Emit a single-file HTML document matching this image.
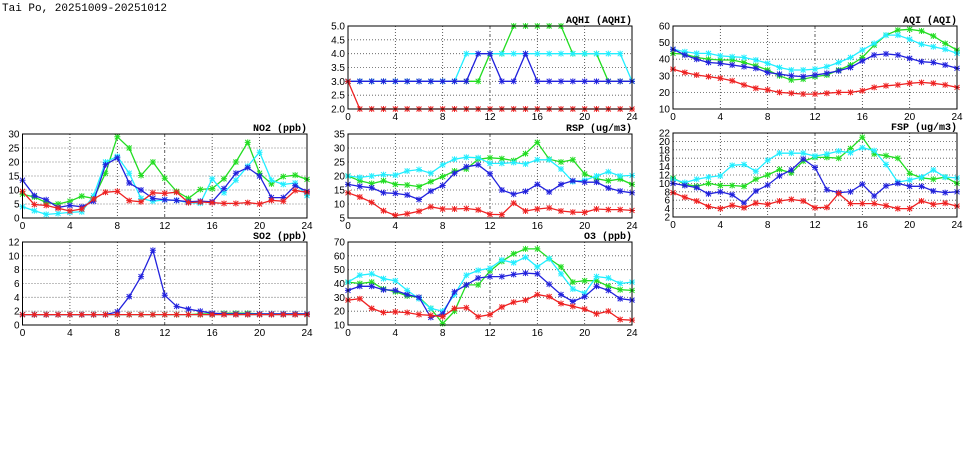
<!DOCTYPE html>
<html><head><meta charset="utf-8"><style>
body{margin:0;background:#fff;width:975px;height:447px;overflow:hidden}
svg text{font-family:"Liberation Sans",sans-serif;font-size:10px;fill:#000}
</style></head><body>
<svg id="s" width="975" height="447" xmlns="http://www.w3.org/2000/svg">
<text x="2" y="11" style="font-family:'Liberation Mono',monospace;font-size:11px">Tai Po, 20251009-20251012</text>
</svg>
<script>
const S=document.getElementById('s');let h='';
const C={g:'#22dd22',c:'#22eeff',b:'#2222dd',r:'#ee2222'};
function panel(x0,x1,y0,y1,ymin,ymax,ystep,title,data){
 const W=x1-x0,H=y1-y0;
 const X=i=>x0+i*W/24,Y=v=>y1-(v-ymin)/(ymax-ymin)*H;
 for(let v=ymin;v<=ymax+1e-9;v+=ystep){const y=Y(v);
  if(v>ymin&&v<ymax-1e-9)h+=`<line x1="${x0}" x2="${x1}" y1="${y}" y2="${y}" stroke="#555" stroke-width="0.8" stroke-dasharray="1,2"/>`;
  h+=`<text x="${x0-3}" y="${y+3.5}" text-anchor="end">${Number.isInteger(ystep)?v:v.toFixed(1)}</text>`;}
 for(let t=0;t<=24;t+=4){const x=X(t);
  if(t>0&&t<24)h+=`<line x1="${x}" x2="${x}" y1="${y0}" y2="${y1}" stroke="#333" stroke-width="0.8" stroke-dasharray="${t==12?'3,2,1,2':'1,2'}"/>`;
  h+=`<text x="${x}" y="${y1+11}" text-anchor="middle">${t}</text>`;}
 for(const k of ['g','c','b','r']){const d=data[k];if(!d)continue;
  const p=d.map((v,i)=>X(i).toFixed(1)+','+Y(v).toFixed(1)).join(' ');
  h+=`<polyline points="${p}" fill="none" stroke="${C[k]}" stroke-width="1.3"/>`;
  d.forEach((v,i)=>{const x=X(i),y=Y(v);h+=`<path d="M${x-2.5},${y-2.5}L${x+2.5},${y+2.5}M${x-2.5},${y+2.5}L${x+2.5},${y-2.5}M${x},${y-3}L${x},${y+3}M${x-3},${y}L${x+3},${y}" stroke="${C[k]}" stroke-width="1"/>`;});}
 h+=`<rect x="${x0}" y="${y0}" width="${W}" height="${H}" fill="none" stroke="#000" stroke-width="1"/>`;
 h+=`<text x="${x1}" y="${y0-3}" text-anchor="end" style="font-family:'Liberation Mono',monospace;font-weight:bold;font-size:10px">${title}</text>`;
}
const f=a=>a;
panel(22.5,307,134,218,0,30,5,'NO2 (ppb)',{
b:[13.5,8,6.5,3.8,4.5,4,6,19,21.5,12.5,10,7,6.5,6.3,5.8,6,5.8,10.5,16,18,15,7.3,7.3,11.5,9.5],
g:[8.5,7.5,5.5,5,6,7.8,7,16,29,25,15.2,20,14.2,9.5,7,10.2,10.5,14,20,27,16,12.2,14.8,15.3,13.8],
c:[4,2.6,1.3,1.6,2,2.2,8,20,22,16,7,6,6.5,6.3,5.5,5.3,14,9,13.5,18.5,23.5,13.5,12,12.5,8],
r:[9.5,4.8,4.5,3.5,2.5,3.2,6.8,9.2,9.5,6.2,5.8,9,8.8,9.2,5.5,5.7,5.5,5.2,5.2,5.5,5,6.3,6,9.8,9.2]});
panel(22.5,307,242,325,0,12,2,'SO2 (ppb)',{
g:[1.5,1.5,1.5,1.5,1.5,1.5,1.5,1.5,1.5,1.5,1.5,1.5,1.5,1.5,1.5,1.6,1.6,1.7,1.7,1.7,1.6,1.6,1.6,1.6,1.6],
c:Array(25).fill(1.5),
b:[1.5,1.5,1.5,1.5,1.5,1.5,1.5,1.5,1.9,4.1,7,10.8,4.3,2.7,2.3,2,1.7,1.6,1.6,1.6,1.6,1.6,1.6,1.6,1.6],
r:Array(25).fill(1.5)});
panel(348,632,26,109,2,5,0.5,'AQHI (AQHI)',{
g:[3,3,3,3,3,3,3,3,3,3,3,3,4,4,5,5,5,5,5,4,4,4,3,3,3],
c:[3,3,3,3,3,3,3,3,3,3,4,4,4,4,4,4,4,4,4,4,4,4,4,4,3],
b:[3,3,3,3,3,3,3,3,3,3,3,4,4,3,3,4,3,3,3,3,3,3,3,3,3],
r:[3,2,2,2,2,2,2,2,2,2,2,2,2,2,2,2,2,2,2,2,2,2,2,2,2]});
panel(348,632,134,218,5,35,5,'RSP (ug/m3)',{
b:[17,16.3,15.8,14,13.8,13.2,11.6,14.6,16.6,21,23.3,24,20.8,15,13.5,14.5,17,14.3,17,18.3,17.8,17.8,15.7,14.6,14],
g:[20,18.3,17.3,18.3,17,16.8,16.2,18,19.8,21.8,22.5,26,26.5,26.2,25.5,28,32,26,25,25.8,20.7,19,18.3,18.9,17],
c:[20,19.5,20,20.5,20.3,21.8,22.3,21,24,26,26.7,26.5,24.5,24.5,24.8,24.3,25.8,25.8,22.5,18,18.5,20,21.5,20,20.2],
r:[14,12.5,10.6,7.6,5.9,6.5,7.4,9,8.2,8.2,8.4,7.9,6.3,6.2,10.3,7.5,8.2,8.6,7.5,7.1,7,8.2,8,8,7.7]});
panel(348,632,242,325,10,70,10,'O3 (ppb)',{
b:[35,38,38,35.5,35,32,30,15.5,18,34,39,44,45,45,46.5,47.5,47,39.5,32,27,30.5,38,35,29,28],
g:[41,40,41,36,34,31,30,22,11,20,39,39,49,56,61.5,65,65,58,52,41,42,42,38,35.5,35],
c:[41,46,47,43.5,42,35,29,22,20,32,46,49.5,51,57,55,59,52,58,47,36,33,45,44,40,41],
r:[28,29,22,19,19.5,19,17.5,17,16,22,22.5,16,17.5,23,26.5,28,32,30.5,25.5,23.5,21.5,18,20,14,13.5]});
panel(673,957,26,109,10,60,10,'AQI (AQI)',{
b:[46,42.5,40,38,37.5,36.5,35.5,34.5,32,31,30,29.5,30.5,31.5,33,35,39,42.5,43.2,42.5,40.5,38.5,38,36.5,34.5],
g:[43.5,43,41,40,39.5,39.5,38,36,33.5,30,27.5,28,29.5,30.5,33.5,36.5,41,48.5,54.5,57.5,58,57,54,49.5,45.5],
c:[46,44.5,43.5,43.5,42,41.5,41,39.5,37.5,35,33.5,33.5,34,35.5,38,41,45.5,49.5,54.5,54.5,52,49,47.5,46,43.5],
r:[34,32,30.5,29.5,28.5,27,24.5,22.5,21.5,20,19.5,19,19,19.5,20,20,21,23,24,24.5,25.5,26,25.5,24.5,23]});
panel(673,957,133,217,2,22,2,'FSP (ug/m3)',{
b:[10,9.5,9,7.5,8,7.3,5.3,8.2,9.6,11.8,13.2,15.8,13.8,8.5,7.8,8,9.8,7,9.4,10,9.3,9.3,8.2,7.8,8],
g:[11.3,9.8,9.3,10,9.5,9.5,9.3,11,12,13.3,12.5,15.3,16.2,16.2,16,18.3,21,17,16.6,16,12.4,11.3,11,11.5,10],
c:[11,10.2,11,11.5,11.8,14.3,14.5,12.9,15.5,17.2,17.2,17.2,16.5,17,17.7,17.3,18.5,17.8,14.5,10.3,10.8,11.5,13.2,11.5,11.3],
r:[7.8,6.7,5.8,4.5,4,4.8,4.2,5.3,5,5.8,6.2,5.8,4.2,4.3,7.6,5.2,5.2,5.2,4.7,4,4,5.8,5,5.3,4.6]});
S.insertAdjacentHTML('beforeend',h);
</script>
</body></html>
